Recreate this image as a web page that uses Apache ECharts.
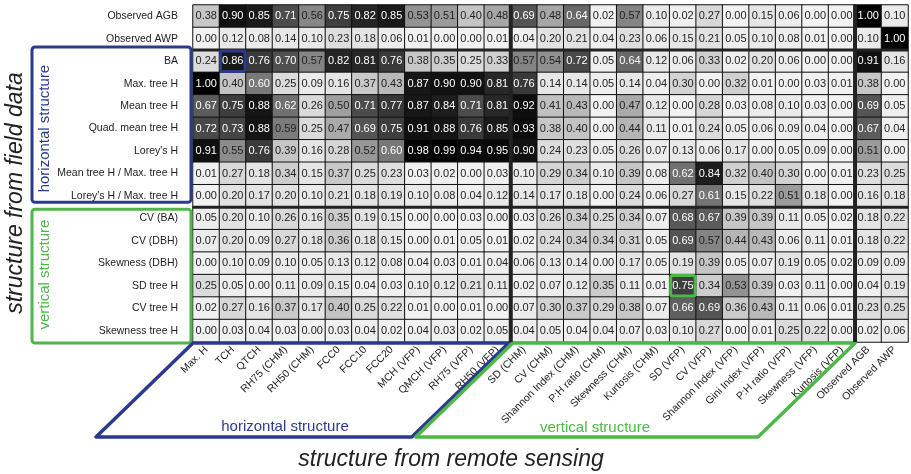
<!DOCTYPE html>
<html><head><meta charset="utf-8">
<script src="https://cdn.jsdelivr.net/npm/echarts@6/dist/echarts.min.js"></script>
<style>html,body{margin:0;padding:0;background:#fff}#c{width:911px;height:474px}</style>
</head><body><div id="c"></div>
<script>
const cols = ["Max. H","TCH","QTCH","RH75 (CHM)","RH50 (CHM)","FCC0","FCC10","FCC20","MCH (VFP)","QMCH (VFP)","RH75 (VFP)","RH50 (VFP)",
  "SD (CHM)","CV (CHM)","Shannon Index (CHM)","P:H ratio (CHM)","Skewness (CHM)","Kurtosis (CHM)","SD (VFP)","CV (VFP)","Shannon Index (VFP)","Gini Index (VFP)","P:H ratio (VFP)","Skewness (VFP)","Kurtosis (VFP)",
  "Observed AGB","Observed AWP"];
const rows = ["Observed AGB","Observed AWP","BA","Max. tree H","Mean tree H","Quad. mean tree H","Lorey's H","Mean tree H / Max. tree H","Lorey's H / Max. tree H",
  "CV (BA)","CV (DBH)","Skewness (DBH)","SD tree H","CV tree H","Skewness tree H"];

const obsAGB   = [0.38,0.90,0.85,0.71,0.56,0.75,0.82,0.85,0.53,0.51,0.40,0.48, 0.69,0.48,0.64,0.02,0.57,0.10,0.02,0.27,0.00,0.15,0.06,0.00,0.00, 1.00,0.10];
const obsAWP   = [0.00,0.12,0.08,0.14,0.10,0.23,0.18,0.06,0.01,0.00,0.00,0.01, 0.04,0.20,0.21,0.04,0.23,0.06,0.15,0.21,0.05,0.10,0.08,0.01,0.00, 0.10,1.00];
const ba       = [0.24,0.86,0.76,0.70,0.57,0.82,0.81,0.76,0.38,0.35,0.25,0.33, 0.57,0.54,0.72,0.05,0.64,0.12,0.06,0.33,0.02,0.20,0.06,0.00,0.00, 0.91,0.16];
const maxH     = [1.00,0.40,0.60,0.25,0.09,0.16,0.37,0.43,0.87,0.90,0.90,0.81, 0.76,0.14,0.14,0.05,0.14,0.04,0.30,0.00,0.32,0.01,0.00,0.03,0.01, 0.38,0.00];
const meanH    = [0.67,0.75,0.88,0.62,0.26,0.50,0.71,0.77,0.87,0.84,0.71,0.81, 0.92,0.41,0.43,0.00,0.47,0.12,0.00,0.28,0.03,0.08,0.10,0.03,0.00, 0.69,0.05];
const quadH    = [0.72,0.73,0.88,0.59,0.25,0.47,0.69,0.75,0.91,0.88,0.76,0.85, 0.93,0.38,0.40,0.00,0.44,0.11,0.01,0.24,0.05,0.06,0.09,0.04,0.00, 0.67,0.04];
const loreyH   = [0.91,0.55,0.76,0.39,0.16,0.28,0.52,0.60,0.98,0.99,0.94,0.95, 0.90,0.24,0.23,0.05,0.26,0.07,0.13,0.06,0.17,0.00,0.05,0.09,0.00, 0.51,0.00];
const meanMax  = [0.01,0.27,0.18,0.34,0.15,0.37,0.25,0.23,0.03,0.02,0.00,0.03, 0.10,0.29,0.34,0.10,0.39,0.08,0.62,0.84,0.32,0.40,0.30,0.00,0.01, 0.23,0.25];
const loreyMax = [0.00,0.20,0.17,0.20,0.10,0.21,0.18,0.19,0.10,0.08,0.04,0.12, 0.14,0.17,0.18,0.00,0.24,0.06,0.27,0.61,0.15,0.22,0.51,0.18,0.00, 0.16,0.18];
const cvBA     = [0.05,0.20,0.10,0.26,0.16,0.35,0.19,0.15,0.00,0.00,0.03,0.00, 0.03,0.26,0.34,0.25,0.34,0.07,0.68,0.67,0.39,0.39,0.11,0.05,0.02, 0.18,0.22];
const cvDBH    = [0.07,0.20,0.09,0.27,0.18,0.36,0.18,0.15,0.00,0.01,0.05,0.01, 0.02,0.24,0.34,0.34,0.31,0.05,0.69,0.57,0.44,0.43,0.06,0.11,0.01, 0.18,0.22];
const skewDBH  = [0.00,0.10,0.09,0.10,0.05,0.13,0.12,0.08,0.04,0.03,0.01,0.04, 0.06,0.13,0.14,0.00,0.17,0.05,0.19,0.39,0.05,0.07,0.19,0.05,0.02, 0.09,0.09];
const sdH      = [0.25,0.05,0.00,0.11,0.09,0.15,0.04,0.03,0.10,0.12,0.21,0.11, 0.02,0.07,0.12,0.35,0.11,0.01,0.75,0.34,0.53,0.39,0.03,0.11,0.00, 0.04,0.19];
const cvH      = [0.02,0.27,0.16,0.37,0.17,0.40,0.25,0.22,0.01,0.00,0.01,0.00, 0.07,0.30,0.37,0.29,0.38,0.07,0.66,0.69,0.36,0.43,0.11,0.06,0.01, 0.23,0.25];
const skewH    = [0.00,0.03,0.04,0.03,0.00,0.03,0.04,0.02,0.04,0.03,0.02,0.05, 0.04,0.05,0.04,0.04,0.07,0.03,0.10,0.27,0.00,0.01,0.25,0.22,0.00, 0.02,0.06];
const matrix = [obsAGB,obsAWP,ba,maxH,meanH,quadH,loreyH,meanMax,loreyMax,cvBA,cvDBH,skewDBH,sdH,cvH,skewH];

// grey ramp (style)
const stops = [[0,242],[0.2,226],[0.4,196],[0.55,140],[0.7,80],[0.85,26],[1,0]];
function grey(v){
  for(let i=1;i<stops.length;i++){
    if(v<=stops[i][0]){
      const a=stops[i-1],b=stops[i];const t=(v-a[0])/(b[0]-a[0]);
      const g=Math.round(a[1]+(b[1]-a[1])*t);return 'rgb('+g+','+g+','+g+')';
    }
  }
  return 'rgb(0,0,0)';
}
const data=[];
matrix.forEach((r,ri)=>r.forEach((v,ci)=>{
  data.push({value:[ci,ri,v],itemStyle:{color:grey(v)},label:{color:v>=0.6?'#fff':'#222'}});
}));

const FONT='Liberation Sans, Arial, sans-serif';
const BLUE='#2c3a8e', GREEN='#4db847';
const chart=echarts.init(document.getElementById('c'),null,{renderer:'canvas'});
chart.setOption({
  animation:false,
  grid:{left:193,right:3,top:5,bottom:132},
  xAxis:{type:'category',data:cols,position:'bottom',axisLine:{show:false},axisTick:{show:false},splitArea:{show:false},
    axisLabel:{rotate:45,interval:0,fontSize:10.5,color:'#222',fontFamily:FONT,margin:6}},
  yAxis:{type:'category',data:rows,inverse:true,axisLine:{show:false},axisTick:{show:false},
    axisLabel:{fontSize:10.5,color:'#222',fontFamily:FONT,margin:15}},
  series:[{type:'heatmap',data:data,
    itemStyle:{borderColor:'#111',borderWidth:1},
    label:{show:true,fontSize:11,fontFamily:FONT,formatter:p=>p.value[2].toFixed(2)}}]
});

function px(c,r){return chart.convertToPixel({seriesIndex:0},[c,r]);}
const p00=px(0,0), p11=px(1,1);
const cw=p11[0]-p00[0], ch=p11[1]-p00[1];
const x0=p00[0]-cw/2, y0=p00[1]-ch/2;
const xR=x0+cols.length*cw, yB=y0+rows.length*ch;
const g=[];
function vline(ci){const x=x0+ci*cw;g.push({type:'line',shape:{x1:x,y1:y0,x2:x,y2:yB},style:{stroke:'#222',lineWidth:4},z:10});}
function hline(ri){const y=y0+ri*ch;g.push({type:'line',shape:{x1:x0,y1:y,x2:xR,y2:y},style:{stroke:'#222',lineWidth:3},z:10});}
vline(12);vline(25);hline(2);hline(9);
// highlighted cells
function cellBox(c,r,col){g.push({type:'rect',shape:{x:x0+c*cw+1,y:y0+r*ch+1,width:cw-2,height:ch-2,r:2},style:{fill:null,stroke:col,lineWidth:3},z:20});}
cellBox(1,2,BLUE);cellBox(18,12,GREEN);
// left group boxes
const lx=32, rx=x0-2;
g.push({type:'rect',shape:{x:lx,y:y0+2*ch-3,width:rx-lx,height:7*ch-2,r:3},style:{fill:null,stroke:BLUE,lineWidth:3},z:5});
g.push({type:'rect',shape:{x:lx,y:y0+9*ch+2,width:rx-lx,height:6*ch-1,r:3},style:{fill:null,stroke:GREEN,lineWidth:3},z:5});
g.push({type:'text',x:45,y:y0+5.5*ch,rotation:Math.PI/2,style:{text:'horizontal structure',fill:BLUE,font:'15px '+FONT,align:'center',verticalAlign:'middle'},z:6});
g.push({type:'text',x:45,y:y0+12*ch,rotation:Math.PI/2,style:{text:'vertical structure',fill:GREEN,font:'15px '+FONT,align:'center',verticalAlign:'middle'},z:6});
g.push({type:'text',x:16,y:193,rotation:Math.PI/2,style:{text:'structure from field data',fill:'#222',font:'italic 23px '+FONT,align:'center',verticalAlign:'middle'},z:6});
// bottom parallelograms
const ty=yB+1, by=437, sh=97;
const xa=x0, xb=x0+12*cw, xc=x0+25*cw;
g.push({type:'polygon',shape:{points:[[xa,ty],[xb-2,ty],[xb-2-sh,by],[xa-sh,by]]},style:{fill:null,stroke:BLUE,lineWidth:3.5,lineJoin:'round'},z:5});
g.push({type:'polygon',shape:{points:[[xb+2,ty],[xc,ty],[xc-sh,by],[xb+2-sh,by]]},style:{fill:null,stroke:GREEN,lineWidth:3.5,lineJoin:'round'},z:5});
g.push({type:'text',x:285,y:427,style:{text:'horizontal structure',fill:BLUE,font:'15px '+FONT,align:'center',verticalAlign:'middle'},z:6});
g.push({type:'text',x:595,y:428,style:{text:'vertical structure',fill:GREEN,font:'15px '+FONT,align:'center',verticalAlign:'middle'},z:6});
g.push({type:'text',x:451,y:460,style:{text:'structure from remote sensing',fill:'#222',font:'italic 23px '+FONT,align:'center',verticalAlign:'middle'},z:6});
chart.setOption({graphic:g});
</script></body></html>
